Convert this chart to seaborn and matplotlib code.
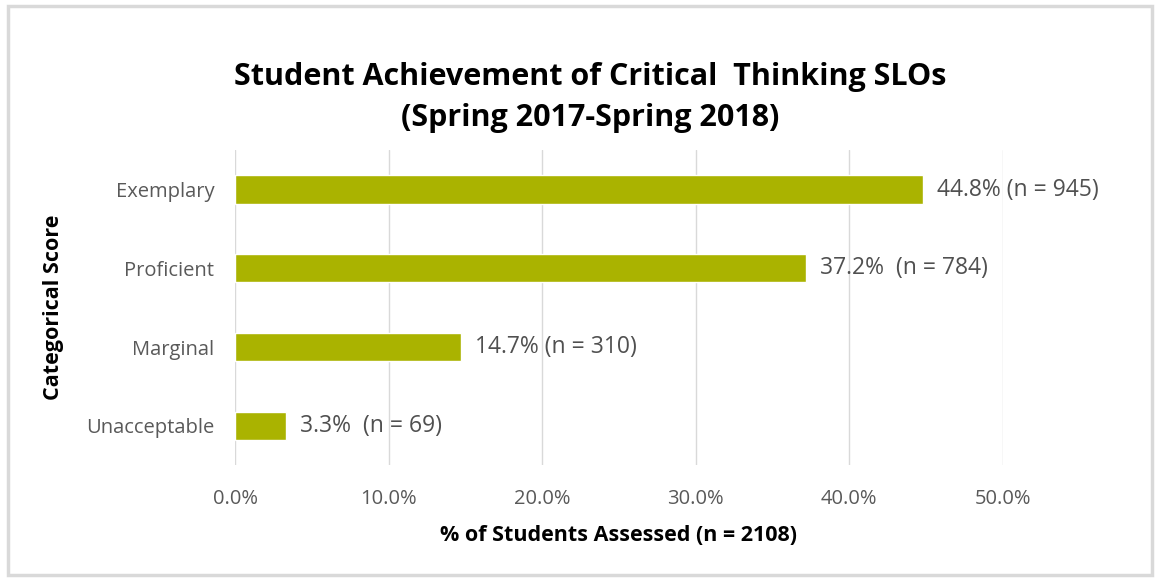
import matplotlib
matplotlib.use("Agg")
import matplotlib.pyplot as plt
import seaborn as sns
import pandas as pd
from matplotlib.patches import Rectangle

categories = ["Exemplary", "Proficient", "Marginal", "Unacceptable"]
percents = [44.8, 37.2, 14.7, 3.3]
counts = [945, 784, 310, 69]
bar_labels = ["44.8% (n = 945)", "37.2%  (n = 784)", "14.7% (n = 310)", "3.3%  (n = 69)"]
x_ticks = [0, 10, 20, 30, 40, 50]

df = pd.DataFrame({"Category": categories, "Percent": percents, "n": counts})

sns.set_style("white")
plt.rcParams["font.family"] = ["Open Sans", "DejaVu Sans"]

fig = plt.figure(figsize=(11.6, 5.8), dpi=100)
ax = fig.add_axes([0.2026, 0.198, 0.662, 0.543])

sns.barplot(data=df, x="Percent", y="Category", order=categories,
            color="#AAB300", saturation=1, width=0.36, ax=ax)

# value labels to the right of each bar
for patch, lab in zip(ax.patches, bar_labels):
    ax.annotate(lab, (patch.get_width(), patch.get_y() + patch.get_height() / 2),
                xytext=(10, 0), textcoords="offset points", va="center", ha="left",
                fontsize=16.5, color="#505050")

ax.set_xlim(0, 50)
ax.set_ylim(3.5, -0.5)
ax.set_xticks(x_ticks)
ax.set_xticklabels([f"{t:.1f}%" for t in x_ticks], fontsize=14.5, color="#595959")
ax.tick_params(axis="y", labelsize=14.5, labelcolor="#595959", length=0, pad=15)
ax.tick_params(axis="x", length=0, pad=17)
ax.grid(axis="x", color="#d9d9d9", linewidth=1)
ax.set_axisbelow(True)
for s in ax.spines.values():
    s.set_visible(False)

ax.set_xlabel("% of Students Assessed (n = 2108)", fontsize=15.5, fontweight="bold",
              color="black", labelpad=12)
ax.set_ylabel("Categorical Score", fontsize=15.5, fontweight="bold", color="black",
              labelpad=16)

fig.text(0.509, 0.832, "Student Achievement of Critical  Thinking SLOs\n(Spring 2017-Spring 2018)",
         ha="center", va="center", fontsize=22, fontweight="bold", linespacing=1.45,
         color="black")

fig.patches.append(Rectangle((0.007, 0.008), 0.986, 0.982, transform=fig.transFigure,
                             fill=False, edgecolor="#d9d9d9", linewidth=2.5))

fig.savefig("out.png", dpi=100)
